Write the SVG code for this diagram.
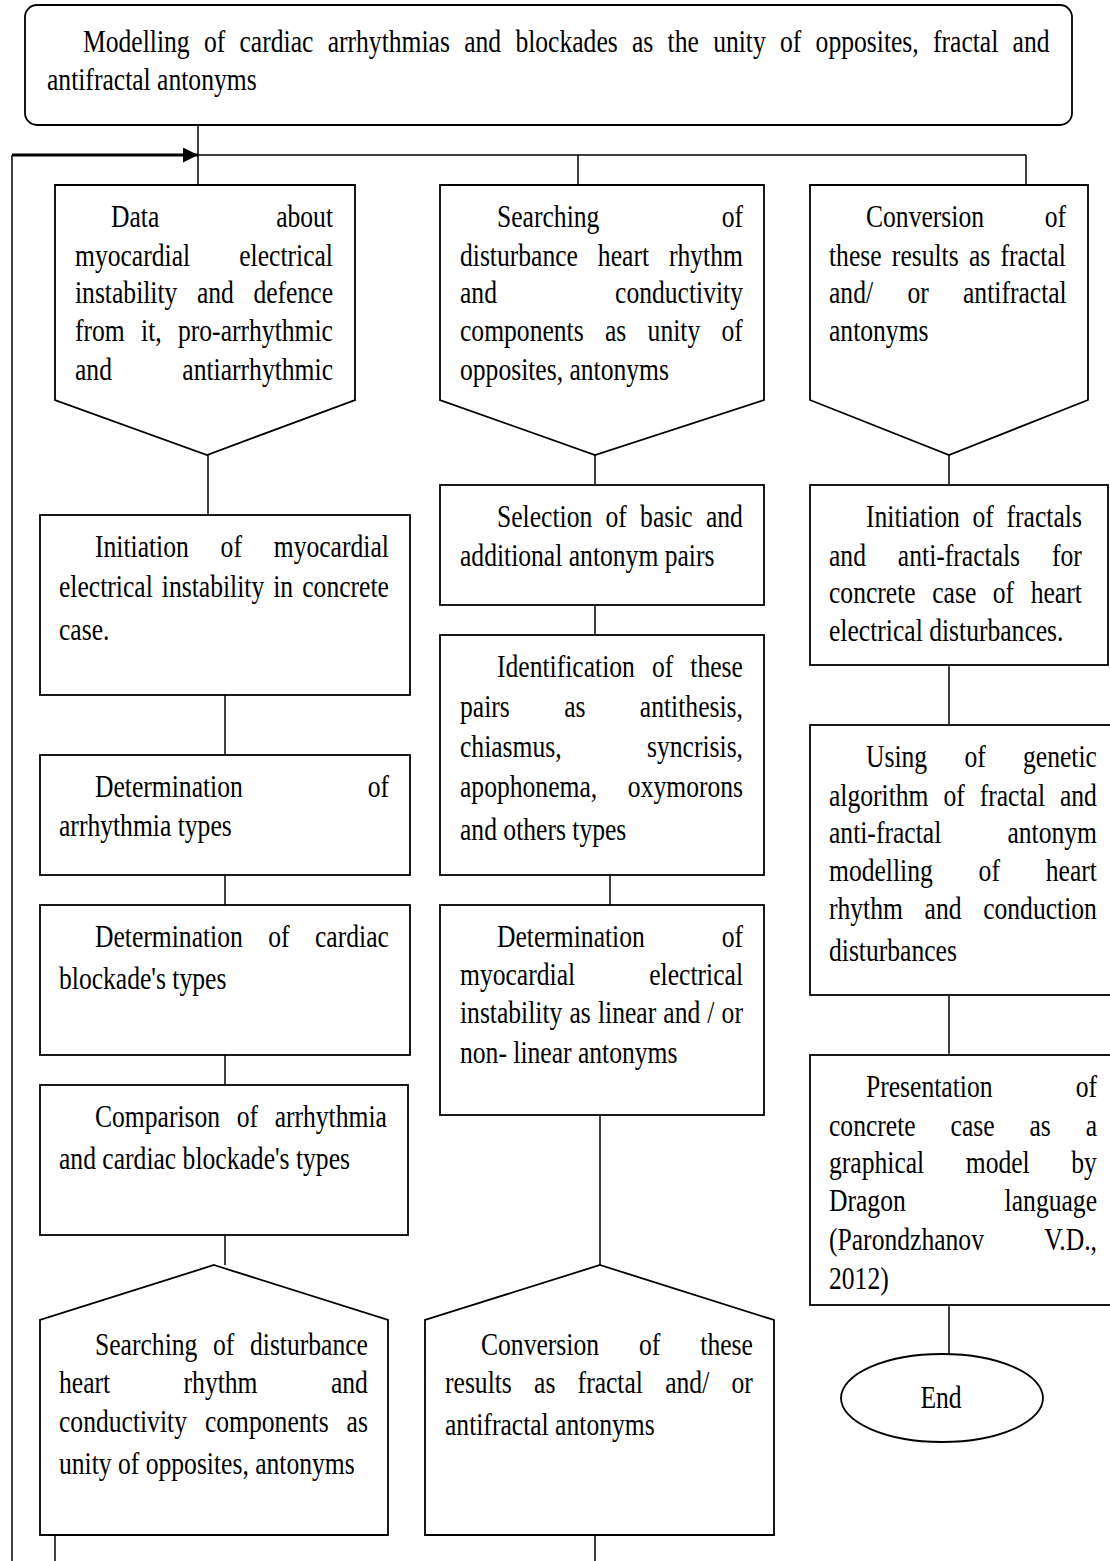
<svg xmlns="http://www.w3.org/2000/svg" width="1110" height="1561" viewBox="0 0 1110 1561">
<style>
.box{fill:#fff;stroke:#000;stroke-width:1.8}
.ln{stroke:#000;stroke-width:1.5;fill:none}
.t{font-family:"Liberation Serif","Times New Roman",serif;font-size:32px;fill:#000}
.e{text-anchor:end}
.m{text-anchor:middle}
</style>
<defs>
<marker id="arr" viewBox="0 0 10 10" refX="10" refY="5" markerWidth="5" markerHeight="5" orient="auto" markerUnits="strokeWidth">
<path d="M0,0 L10,5 L0,10 z" fill="#000"/>
</marker>
</defs>
<rect width="1110" height="1561" fill="#fff"/>
<g id="connectors">
<line class="ln" x1="198" y1="125" x2="198" y2="185"/>
<line class="ln" x1="198" y1="155" x2="1026" y2="155"/>
<line class="ln" x1="578" y1="155" x2="578" y2="185"/>
<line class="ln" x1="1026" y1="155" x2="1026" y2="185"/>
<line class="ln" x1="12" y1="155" x2="12" y2="1561" stroke-width="2"/>
<line x1="12" y1="155" x2="198" y2="155" stroke="#000" stroke-width="3" marker-end="url(#arr)"/>
<line class="ln" x1="208" y1="455" x2="208" y2="515"/>
<line class="ln" x1="225" y1="695" x2="225" y2="755"/>
<line class="ln" x1="225" y1="875" x2="225" y2="905"/>
<line class="ln" x1="225" y1="1055" x2="225" y2="1085"/>
<line class="ln" x1="225" y1="1235" x2="225" y2="1265"/>
<line class="ln" x1="55" y1="1535" x2="55" y2="1561"/>
<line class="ln" x1="595" y1="455" x2="595" y2="485"/>
<line class="ln" x1="595" y1="605" x2="595" y2="635"/>
<line class="ln" x1="610" y1="875" x2="610" y2="905"/>
<line class="ln" x1="600" y1="1115" x2="600" y2="1265"/>
<line class="ln" x1="595" y1="1535" x2="595" y2="1561"/>
<line class="ln" x1="949" y1="455" x2="949" y2="485"/>
<line class="ln" x1="949" y1="665" x2="949" y2="725"/>
<line class="ln" x1="949" y1="995" x2="949" y2="1055"/>
<line class="ln" x1="949" y1="1305" x2="949" y2="1355"/>
</g>
<g id="n-title">
<rect class="box" x="25" y="5" width="1047" height="120" rx="12"/>
<g transform="scale(0.8,1)" class="t">
<text x="103.75" y="52" style="word-spacing:9.85px">Modelling of cardiac arrhythmias and blockades as the unity of opposites, fractal and</text>
<text x="58.75" y="90">antifractal antonyms</text>
</g>
</g>
<g id="n-data">
<polygon class="box" points="55,185 355,185 355,400 207,455 55,400"/>
<g transform="scale(0.8,1)" class="t">
<text x="138.75" y="227">Data</text><text class="e" x="416.25" y="227">about</text>
<text x="93.75" y="266">myocardial</text><text class="e" x="416.25" y="266">electrical</text>
<text x="93.75" y="303" style="word-spacing:16.45px">instability and defence</text>
<text x="93.75" y="341" style="word-spacing:12.4px">from it, pro-arrhythmic</text>
<text x="93.75" y="380">and</text><text class="e" x="416.25" y="380">antiarrhythmic</text>
</g>
</g>
<g id="n-search1">
<polygon class="box" points="440,185 764,185 764,400 595,455 440,400"/>
<g transform="scale(0.8,1)" class="t">
<text x="621.25" y="227">Searching</text><text class="e" x="928.75" y="227">of</text>
<text x="575" y="266" style="word-spacing:16.9px">disturbance heart rhythm</text>
<text x="575" y="303">and</text><text class="e" x="928.75" y="303">conductivity</text>
<text x="575" y="341" style="word-spacing:18.65px">components as unity of</text>
<text x="575" y="380">opposites, antonyms</text>
</g>
</g>
<g id="n-conv1">
<polygon class="box" points="810,185 1088,185 1088,400 949,455 810,400"/>
<g transform="scale(0.8,1)" class="t">
<text x="1082.5" y="227">Conversion</text><text class="e" x="1332.5" y="227">of</text>
<text x="1036.25" y="266" style="word-spacing:4.85px">these results as fractal</text>
<text x="1036.25" y="303" style="word-spacing:34.9px">and/ or antifractal</text>
<text x="1036.25" y="341">antonyms</text>
</g>
</g>
<g id="n-selection">
<rect class="box" x="440" y="485" width="324" height="120"/>
<g transform="scale(0.8,1)" class="t">
<text x="621.25" y="527" style="word-spacing:8.6px">Selection of basic and</text>
<text x="575" y="566">additional antonym pairs</text>
</g>
</g>
<g id="n-initfract">
<rect class="box" x="810" y="485" width="298" height="180"/>
<g transform="scale(0.8,1)" class="t">
<text x="1082.5" y="527" style="word-spacing:7.9px">Initiation of fractals</text>
<text x="1036.25" y="566" style="word-spacing:31.9px">and anti-fractals for</text>
<text x="1036.25" y="603" style="word-spacing:12.7px">concrete case of heart</text>
<text x="1036.25" y="641">electrical disturbances.</text>
</g>
</g>
<g id="n-initmyo">
<rect class="box" x="40" y="515" width="370" height="180"/>
<g transform="scale(0.8,1)" class="t">
<text x="118.75" y="557" style="word-spacing:31.75px">Initiation of myocardial</text>
<text x="73.75" y="597" style="word-spacing:3.33px">electrical instability in concrete</text>
<text x="73.75" y="640">case.</text>
</g>
</g>
<g id="n-identification">
<rect class="box" x="440" y="635" width="324" height="240"/>
<g transform="scale(0.8,1)" class="t">
<text x="621.25" y="677" style="word-spacing:13.35px">Identification of these</text>
<text x="575" y="717" style="word-spacing:60px">pairs as antithesis,</text>
<text x="575" y="757">chiasmus,</text><text class="e" x="928.75" y="757">syncrisis,</text>
<text x="575" y="797">apophonema,</text><text class="e" x="928.75" y="797">oxymorons</text>
<text x="575" y="840">and others types</text>
</g>
</g>
<g id="n-using">
<rect class="box" x="810" y="725" width="310" height="270"/>
<g transform="scale(0.8,1)" class="t">
<text x="1082.5" y="767" style="word-spacing:38.6px">Using of genetic</text>
<text x="1036.25" y="806" style="word-spacing:10.67px">algorithm of fractal and</text>
<text x="1036.25" y="843">anti-fractal</text><text class="e" x="1371.25" y="843">antonym</text>
<text x="1036.25" y="881" style="word-spacing:49.3px">modelling of heart</text>
<text x="1036.25" y="919" style="word-spacing:19.05px">rhythm and conduction</text>
<text x="1036.25" y="961">disturbances</text>
</g>
</g>
<g id="n-detarr">
<rect class="box" x="40" y="755" width="370" height="120"/>
<g transform="scale(0.8,1)" class="t">
<text x="118.75" y="797">Determination</text><text class="e" x="486.25" y="797">of</text>
<text x="73.75" y="836">arrhythmia types</text>
</g>
</g>
<g id="n-detblock">
<rect class="box" x="40" y="905" width="370" height="150"/>
<g transform="scale(0.8,1)" class="t">
<text x="118.75" y="947" style="word-spacing:23.8px">Determination of cardiac</text>
<text x="73.75" y="989">blockade's types</text>
</g>
</g>
<g id="n-detmyo">
<rect class="box" x="440" y="905" width="324" height="210"/>
<g transform="scale(0.8,1)" class="t">
<text x="621.25" y="947">Determination</text><text class="e" x="928.75" y="947">of</text>
<text x="575" y="985">myocardial</text><text class="e" x="928.75" y="985">electrical</text>
<text x="575" y="1023" style="word-spacing:0.9px">instability as linear and / or</text>
<text x="575" y="1063">non- linear antonyms</text>
</g>
</g>
<g id="n-presentation">
<rect class="box" x="810" y="1055" width="310" height="250"/>
<g transform="scale(0.8,1)" class="t">
<text x="1082.5" y="1097">Presentation</text><text class="e" x="1371.25" y="1097">of</text>
<text x="1036.25" y="1136" style="word-spacing:35.6px">concrete case as a</text>
<text x="1036.25" y="1173" style="word-spacing:43.95px">graphical model by</text>
<text x="1036.25" y="1211">Dragon</text><text class="e" x="1371.25" y="1211">language</text>
<text x="1036.25" y="1250">(Parondzhanov</text><text class="e" x="1371.25" y="1250">V.D.,</text>
<text x="1036.25" y="1289">2012)</text>
</g>
</g>
<g id="n-comparison">
<rect class="box" x="40" y="1085" width="368" height="150"/>
<g transform="scale(0.8,1)" class="t">
<text x="118.75" y="1127" style="word-spacing:12.75px">Comparison of arrhythmia</text>
<text x="73.75" y="1169">and cardiac blockade's types</text>
</g>
</g>
<g id="n-search2">
<polygon class="box" points="214,1265 388,1320 388,1535 40,1535 40,1320"/>
<g transform="scale(0.8,1)" class="t">
<text x="118.75" y="1355" style="word-spacing:11.6px">Searching of disturbance</text>
<text x="73.75" y="1393" style="word-spacing:83.8px">heart rhythm and</text>
<text x="73.75" y="1432" style="word-spacing:14.5px">conductivity components as</text>
<text x="73.75" y="1474">unity of opposites, antonyms</text>
</g>
</g>
<g id="n-conv2">
<polygon class="box" points="600,1265 774,1320 774,1535 425,1535 425,1320"/>
<g transform="scale(0.8,1)" class="t">
<text x="601.25" y="1355" style="word-spacing:42px">Conversion of these</text>
<text x="556.25" y="1393" style="word-spacing:19.8px">results as fractal and/ or</text>
<text x="556.25" y="1435">antifractal antonyms</text>
</g>
</g>
<g id="n-end">
<ellipse class="box" cx="942" cy="1398" rx="101" ry="44"/>
<g transform="scale(0.8,1)" class="t">
<text class="m" x="1176.25" y="1408">End</text>
</g>
</g>
</svg>
